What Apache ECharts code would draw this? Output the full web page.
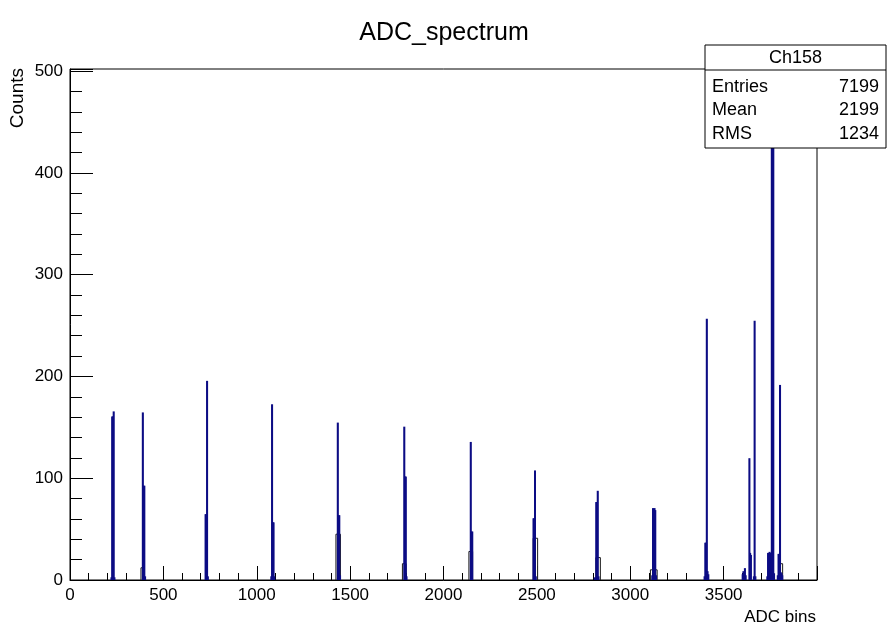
<!DOCTYPE html>
<html>
<head>
<meta charset="utf-8">
<script src="https://cdn.jsdelivr.net/npm/echarts@6/dist/echarts.min.js"></script>
<style>
  html, body { margin: 0; padding: 0; background: #fff; }
  #chart { width: 888px; height: 625px; }
</style>
</head>
<body>
<div id="chart"></div>
<script>
// ---- data ----
const chartTitle = 'ADC_spectrum';
const xTitle = 'ADC bins';
const yTitle = 'Counts';
const statsName = 'Ch158';
const statsLabels = ['Entries', 'Mean', 'RMS'];
const statsValues = ['7199', '2199', '1234'];

const BIN_WIDTH = 4;
// main histogram (navy): lower bin edge and count
const binStart = [
  220, 224, 228, 232, 236,
  388, 392, 396, 400,
  724, 728, 732, 736,
  1076, 1080, 1084, 1088, 1092,
  1432, 1436, 1440, 1444,
  1788, 1792, 1796, 1800,
  2144, 2148, 2152,
  2480, 2484, 2488, 2492,
  2808, 2816, 2820, 2824, 2828,
  3116, 3120, 3124, 3128, 3132, 3136,
  3396, 3400, 3404, 3408, 3412, 3416,
  3600, 3604, 3612, 3616, 3636, 3640, 3644, 3660, 3664, 3668,
  3732, 3736, 3740, 3744, 3748, 3752, 3756, 3760, 3764, 3768,
  3788, 3792, 3796, 3800, 3804, 3808, 3812
];
const binCount = [
  2, 160, 160, 165, 2,
  164, 92, 92, 3,
  64, 64, 195, 3,
  3, 172, 56, 56, 3,
  154, 63, 63, 4,
  150, 101, 101, 3,
  135, 47, 47,
  60, 60, 107, 3,
  2, 76, 76, 87, 3,
  4, 70, 69, 70, 68, 4,
  3, 36, 36, 256, 8, 5,
  5, 8, 11, 4, 119, 26, 24, 3, 254, 3,
  3, 26, 24, 27, 25, 26, 470, 478, 460, 6,
  4, 25, 25, 191, 7, 6, 4
];
// low-level wide bins drawn as open boxes
const lowStart = [380, 1424, 1780, 2136, 2480, 2816, 3108, 3800];
const lowEnd   = [396, 1448, 1800, 2156, 2504, 2840, 3144, 3816];
const lowCount = [12, 45, 16, 28, 41, 22, 10, 16];

const xMin = 0, xMax = 4000, xStep = 500;
const yMin = 0, yMax = 502, yStep = 100;

// ---- build ----
const mainData = binStart.map((s, i) => [s, s + BIN_WIDTH, binCount[i]]);
const lowData = lowStart.map((s, i) => [s, lowEnd[i], lowCount[i]]);

const NAVY = '#0c0c84';
function rectItem(fill, stroke, lw) {
  return function (params, api) {
    const p0 = api.coord([api.value(0), api.value(2)]);
    const p1 = api.coord([api.value(1), 0]);
    return {
      type: 'rect',
      shape: { x: p0[0], y: p0[1], width: p1[0] - p0[0], height: p1[1] - p0[1] },
      style: { fill: fill, stroke: stroke, lineWidth: lw }
    };
  };
}

const FONT = 'Liberation Sans, Arial, Helvetica, sans-serif';
const chart = echarts.init(document.getElementById('chart'), null, { renderer: 'canvas' });

const boxL = 705, boxT = 45, boxR = 886, boxB = 148, boxH = 70;
const statsGraphics = [
  { type: 'rect', shape: { x: boxL, y: boxT, width: boxR - boxL, height: boxB - boxT },
    style: { fill: '#fff', stroke: '#000', lineWidth: 1 }, z: 100 },
  { type: 'line', shape: { x1: boxL, y1: boxH, x2: boxR, y2: boxH },
    style: { stroke: '#000', lineWidth: 1 }, z: 101 },
  { type: 'text', x: (boxL + boxR) / 2, y: (boxT + boxH) / 2 + 1, z: 101,
    style: { text: statsName, font: '18px ' + FONT, fill: '#000', align: 'center', verticalAlign: 'middle' } }
];
statsLabels.forEach((lab, i) => {
  const y = 87 + i * 23.5;
  statsGraphics.push({ type: 'text', x: 712, y: y, z: 101,
    style: { text: lab, font: '18px ' + FONT, fill: '#000', align: 'left', verticalAlign: 'middle' } });
  statsGraphics.push({ type: 'text', x: 879, y: y, z: 101,
    style: { text: statsValues[i], font: '18px ' + FONT, fill: '#000', align: 'right', verticalAlign: 'middle' } });
});

const plain = v => String(v);

const option = {
  animation: false,
  backgroundColor: '#fff',
  title: {
    text: chartTitle, left: 'center', top: 21, padding: 0,
    textStyle: { fontFamily: FONT, fontSize: 25, fontWeight: 'normal', color: '#000' }
  },
  grid: { left: 70, right: 71, top: 69, bottom: 45, show: true, borderColor: '#000', borderWidth: 1, containLabel: false },
  xAxis: {
    type: 'value', min: xMin, max: xMax, interval: xStep,
    axisLine: { show: true, onZero: false, lineStyle: { color: '#000', width: 1 } },
    axisTick: { show: true, inside: true, length: 14, lineStyle: { color: '#000', width: 1 } },
    minorTick: { show: true, splitNumber: 5, length: 7, lineStyle: { color: '#000', width: 1 } },
    splitLine: { show: false },
    axisLabel: { show: true, showMaxLabel: false, margin: 7, color: '#000', fontFamily: FONT, fontSize: 17, formatter: plain }
  },
  yAxis: {
    type: 'value', min: yMin, max: yMax, interval: yStep,
    axisLine: { show: true, lineStyle: { color: '#000', width: 1 } },
    axisTick: { show: true, inside: true, length: 23, lineStyle: { color: '#000', width: 1 } },
    minorTick: { show: true, splitNumber: 5, length: 12, lineStyle: { color: '#000', width: 1 } },
    splitLine: { show: false },
    axisLabel: { show: true, showMaxLabel: false, margin: 7, color: '#000', fontFamily: FONT, fontSize: 17, formatter: plain }
  },
  graphic: [
    { type: 'text', x: 816, y: 617, style: { text: xTitle, font: '17px ' + FONT, fill: '#000', align: 'right', verticalAlign: 'middle' } },
    { type: 'text', x: 18, y: 68, rotation: Math.PI / 2,
      style: { text: yTitle, font: '19px ' + FONT, fill: '#000', align: 'right', verticalAlign: 'middle' } }
  ].concat(statsGraphics),
  series: [
    { type: 'custom', name: 'low', data: lowData, encode: { x: [0, 1], y: 2 },
      renderItem: rectItem('#fffff2', '#1a1a1a', 1), z: 2, clip: true },
    { type: 'custom', name: statsName, data: mainData, encode: { x: [0, 1], y: 2 },
      renderItem: rectItem(NAVY, NAVY, 1.3), z: 3, clip: true }
  ]
};
chart.setOption(option);
</script>
</body>
</html>
